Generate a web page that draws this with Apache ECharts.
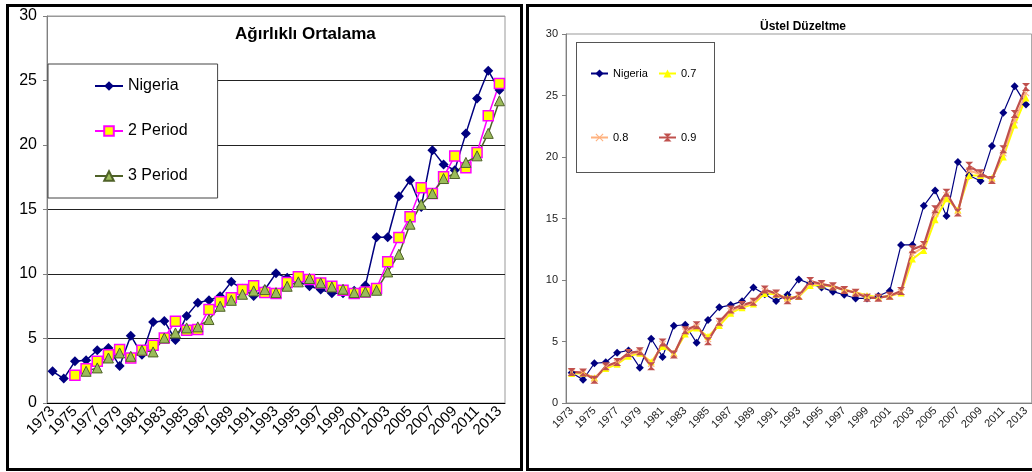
<!DOCTYPE html>
<html>
<head>
<meta charset="utf-8">
<script src="https://cdn.jsdelivr.net/npm/echarts@6/dist/echarts.min.js"></script>
<style>
  html, body { margin: 0; padding: 0; background: #fff; }
  .wrap { position: relative; width: 1032px; height: 472px; overflow: hidden; }
  #myChart { position: absolute; left: 0; top: 0; width: 1032px; height: 472px; }
  .frame { position: absolute; border: 3px solid #000; pointer-events: none; }
  .frameL { left: 6px; top: 4px; width: 511px; height: 461px; }
  .frameR { left: 526px; top: 4px; width: 520px; height: 461px; }
  .legBox { position: absolute; left: 576px; top: 42px; width: 137px; height: 129px; border: 1px solid #555; pointer-events: none; }
</style>
</head>
<body>
<div class="wrap">
  <div id="myChart"></div>
  <div class="frame frameL"></div>
  <div class="frame frameR"></div>
  <div class="legBox"></div>
</div>
<script>
  // yillar
  var years = [];
  for (var y = 1973; y <= 2013; y++) years.push(String(y));

  var nigeria = [2.46, 1.89, 3.23, 3.31, 4.09, 4.27, 2.87, 5.22, 3.75, 6.28, 6.36, 4.89, 6.75, 7.78, 7.96, 8.28, 9.39, 8.85, 8.3, 8.8,
    10.05, 9.7, 9.4, 9.05, 8.8, 8.5, 8.5, 8.7, 9.1, 12.85, 12.85, 16.03, 17.27, 15.2, 19.6, 18.49, 18.05, 20.9, 23.6, 25.76, 24.26];

  // agirlikli ortalama
  var period2 = ['-', '-', 2.15, 2.66, 3.23, 3.75, 4.14, 3.49, 4.09, 4.47, 5.04, 6.34, 5.64, 5.69, 7.24, 7.84, 8.15, 8.79, 9.08, 8.56,
    8.48, 9.34, 9.78, 9.57, 9.31, 9.05, 8.74, 8.48, 8.61, 8.87, 10.94, 12.83, 14.43, 16.68, 16.24, 17.53, 19.14, 18.23, 19.42, 22.27, 24.77];
  var period3 = ['-', '-', '-', 2.46, 2.72, 3.49, 3.88, 3.62, 4.09, 3.96, 5.04, 5.43, 5.82, 5.9, 6.47, 7.5, 7.96, 8.43, 8.69, 8.79,
    8.56, 9.05, 9.39, 9.65, 9.31, 9.0, 8.82, 8.56, 8.61, 8.74, 10.16, 11.53, 13.86, 15.39, 16.24, 17.4, 17.79, 18.65, 19.16, 20.9, 23.43];

  // ustel duzeltme
  var alpha07 = [2.4, 2.42, 2.05, 2.8, 3.15, 3.8, 4.05, 3.35, 4.6, 4.05, 5.6, 6.1, 5.4, 6.3, 7.3, 7.75, 8.05, 8.9, 8.85, 8.55,
    8.65, 9.55, 9.6, 9.45, 9.2, 9.0, 8.75, 8.6, 8.7, 8.95, 11.7, 12.4, 14.9, 16.6, 15.7, 18.5, 18.5, 18.3, 20.0, 22.6, 24.8];
  var alpha08 = [2.5, 2.45, 2.0, 2.95, 3.25, 3.95, 4.15, 3.2, 4.8, 4.0, 5.8, 6.2, 5.2, 6.45, 7.45, 7.85, 8.15, 9.1, 8.9, 8.45,
    8.7, 9.7, 9.65, 9.5, 9.2, 9.0, 8.65, 8.55, 8.7, 9.0, 12.1, 12.7, 15.4, 16.9, 15.6, 18.9, 18.6, 18.2, 20.3, 23.0, 25.2];
  var alpha09 = [2.53, 2.47, 1.9, 2.99, 3.34, 4.07, 4.21, 2.99, 4.91, 3.94, 5.92, 6.33, 5.02, 6.6, 7.6, 7.96, 8.23, 9.23, 8.9, 8.36,
    8.72, 9.91, 9.67, 9.5, 9.18, 8.96, 8.55, 8.55, 8.72, 9.1, 12.49, 12.84, 15.75, 17.1, 15.48, 19.28, 18.68, 18.14, 20.64, 23.49, 25.69];

  var fontMain = 'Liberation Sans, Arial, sans-serif';
  var xSymbol = 'path://M0,1L1,0L5,4L9,0L10,1L6,5L10,9L9,10L5,6L1,10L0,9L4,5Z';
  var hourglass = 'path://M0,0L10,0L5,5L10,10L0,10L5,5Z';

  var myChart = echarts.init(document.getElementById('myChart'));
  var option = {
    animation: false,
    backgroundColor: '#fff',
    title: [{
      text: 'Ağırlıklı Ortalama',
      left: 230,
      top: 21,
      textStyle: { fontFamily: fontMain, fontWeight: 'bold', fontSize: 17, color: '#000' }
    }, {
      text: 'Üstel Düzeltme',
      left: 755,
      top: 16,
      textStyle: { fontFamily: fontMain, fontWeight: 'bold', fontSize: 12, color: '#000' }
    }],
    legend: [{
      data: ['Nigeria', '2 Period', '3 Period'],
      orient: 'vertical',
      left: 48,
      top: 64,
      padding: [14, 30, 14, 46],
      itemGap: 29,
      itemWidth: 28,
      itemHeight: 12,
      backgroundColor: '#fff',
      borderColor: '#444',
      borderWidth: 1,
      textStyle: { fontFamily: fontMain, fontSize: 16, color: '#000' }
    }, {
      data: ['Nigeria ', '0.8'],
      orient: 'vertical',
      left: 590,
      top: 68,
      padding: 0,
      itemGap: 53,
      itemWidth: 17,
      itemHeight: 10,
      textStyle: { fontFamily: fontMain, fontSize: 11, color: '#000' }
    }, {
      data: ['0.7', '0.9'],
      orient: 'vertical',
      left: 658,
      top: 68,
      padding: 0,
      itemGap: 53,
      itemWidth: 17,
      itemHeight: 10,
      textStyle: { fontFamily: fontMain, fontSize: 11, color: '#000' }
    }],
    grid: [{
      left: 47, top: 16, width: 458, height: 387,
      show: true, borderColor: '#999', borderWidth: 1, backgroundColor: '#fff'
    }, {
      left: 566, top: 34, width: 467, height: 369,
      show: true, borderColor: '#999', borderWidth: 1, backgroundColor: '#fff'
    }],
    xAxis: [{
      gridIndex: 0,
      type: 'category',
      data: years,
      boundaryGap: true,
      axisLine: { lineStyle: { color: '#000', width: 1 } },
      axisTick: { interval: 0, length: 5, lineStyle: { color: '#000' } },
      axisLabel: {
        interval: 1, rotate: 45, margin: 6, hideOverlap: false,
        fontFamily: fontMain, fontSize: 15, lineHeight: 12, color: '#000'
      }
    }, {
      gridIndex: 1,
      type: 'category',
      data: years,
      boundaryGap: true,
      axisLine: { lineStyle: { color: '#808080', width: 1 } },
      axisTick: { interval: 0, length: 4, lineStyle: { color: '#808080' } },
      axisLabel: {
        interval: 1, rotate: 45, margin: 6, hideOverlap: false,
        fontFamily: fontMain, fontSize: 11, color: '#222'
      }
    }],
    yAxis: [{
      gridIndex: 0,
      type: 'value',
      min: 0, max: 30, interval: 5,
      axisLine: { show: true, lineStyle: { color: '#808080' } },
      axisTick: { show: true, length: 4, lineStyle: { color: '#808080' } },
      axisLabel: { margin: 10, fontFamily: fontMain, fontSize: 16, color: '#000' },
      splitLine: { show: true, lineStyle: { color: ['#000', '#222', '#222', '#222', '#222', '#222', '#999'], width: 1 } }
    }, {
      gridIndex: 1,
      type: 'value',
      min: 0, max: 30, interval: 5,
      axisLine: { show: true, lineStyle: { color: '#808080' } },
      axisTick: { show: true, length: 4, lineStyle: { color: '#808080' } },
      axisLabel: { margin: 8, fontFamily: fontMain, fontSize: 11, color: '#222' },
      splitLine: { show: false }
    }],
    series: [{
      name: 'Nigeria',
      type: 'line',
      xAxisIndex: 0, yAxisIndex: 0,
      data: nigeria,
      showAllSymbol: true,
      symbol: 'diamond', symbolSize: 10,
      lineStyle: { color: '#000080', width: 1.5 },
      itemStyle: { color: '#000080' }
    }, {
      name: '2 Period',
      type: 'line',
      xAxisIndex: 0, yAxisIndex: 0,
      data: period2,
      showAllSymbol: true,
      symbol: 'rect', symbolSize: 10,
      lineStyle: { color: '#FF00FF', width: 1.5 },
      itemStyle: { color: '#FFFF00', borderColor: '#FF00FF', borderWidth: 1.5 }
    }, {
      name: '3 Period',
      type: 'line',
      xAxisIndex: 0, yAxisIndex: 0,
      data: period3,
      showAllSymbol: true,
      symbol: 'triangle', symbolSize: 10,
      lineStyle: { color: '#4F6228', width: 1.5 },
      itemStyle: { color: '#9BBB59', borderColor: '#4F6228', borderWidth: 1 }
    }, {
      name: 'Nigeria ',
      type: 'line',
      xAxisIndex: 1, yAxisIndex: 1,
      data: nigeria,
      showAllSymbol: true,
      symbol: 'diamond', symbolSize: 8,
      lineStyle: { color: '#000080', width: 1.2 },
      itemStyle: { color: '#000080' }
    }, {
      name: '0.7',
      type: 'line',
      xAxisIndex: 1, yAxisIndex: 1,
      data: alpha07,
      showAllSymbol: true,
      symbol: 'triangle', symbolSize: 7,
      lineStyle: { color: '#FFFF00', width: 2 },
      itemStyle: { color: '#FFFF00' }
    }, {
      name: '0.8',
      type: 'line',
      xAxisIndex: 1, yAxisIndex: 1,
      data: alpha08,
      showAllSymbol: true,
      symbol: xSymbol, symbolSize: 7,
      lineStyle: { color: '#FFB27F', width: 2 },
      itemStyle: { color: '#FFB27F' }
    }, {
      name: '0.9',
      type: 'line',
      xAxisIndex: 1, yAxisIndex: 1,
      data: alpha09,
      showAllSymbol: true,
      symbol: hourglass, symbolSize: 8,
      lineStyle: { color: '#C0504D', width: 2.2 },
      itemStyle: { color: '#C0504D' }
    }]
  };
  myChart.setOption(option);
</script>
</body>
</html>
